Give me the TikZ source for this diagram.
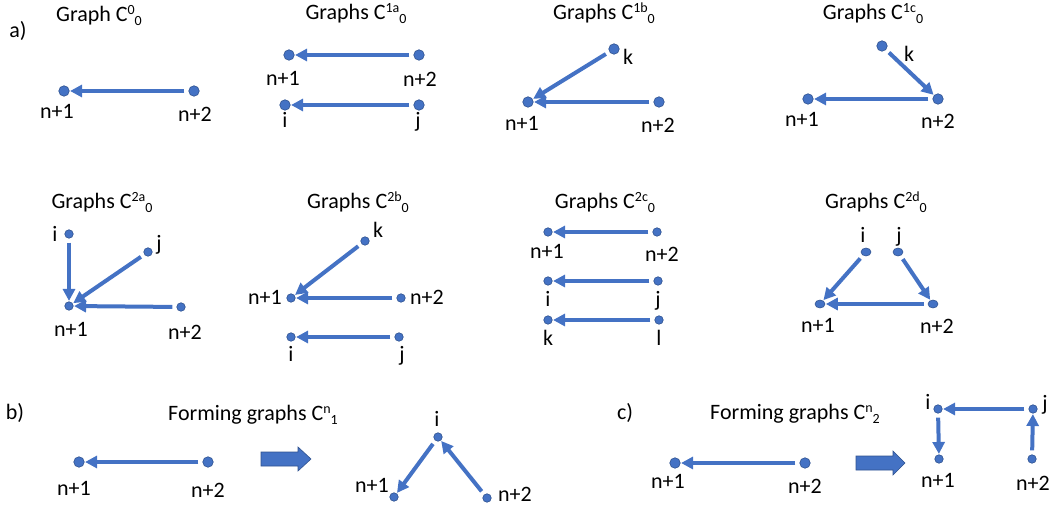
\documentclass[tikz,border=0pt]{standalone}
\usepackage{fontspec}
\setmainfont{Carlito}
\usetikzlibrary{arrows.meta,shapes.geometric}
\definecolor{gblue}{HTML}{4472C4}
\definecolor{gdark}{HTML}{2F528F}
\newcommand{\Cg}[2]{C\raisebox{7pt}{\fontsize{14}{14}\selectfont #1}\raisebox{-4pt}{\fontsize{14}{14}\selectfont #2}}
\begin{document}
\begin{tikzpicture}[x=1pt,y=-1pt,
  dot/.style={circle,fill=gblue,draw=gdark,line width=0.6pt,inner sep=0pt,minimum size=10.5pt},
  sdot/.style={dot,minimum size=8.5pt},
  edot/.style={ellipse,fill=gblue,draw=gdark,line width=0.6pt,inner sep=0pt,minimum width=10pt,minimum height=8pt},
  lbl/.style={anchor=base,inner sep=0pt,font=\fontsize{22}{26}\selectfont},
  edge/.style={draw=gblue,line width=4pt,-{Triangle[length=12pt,width=12pt]},shorten <=4pt,shorten >=0.5pt},
  bigarrow/.style={fill=gblue,draw=gdark,line width=0.6pt}]
\useasboundingbox (0,0) rectangle (1054,510);

% ---- titles
\node[lbl] (ta) at (18,38) {a)};
\node[lbl] (t1) at (99,22) {Graph \Cg{0}{0}};
\node[lbl] (t2) at (356,20) {Graphs \Cg{1a}{0}};
\node[lbl] (t3) at (604,20) {Graphs \Cg{1b}{0}};
\node[lbl] (t4) at (873,20) {Graphs \Cg{1c}{0}};
\node[lbl] (t5) at (102,209) {Graphs \Cg{2a}{0}};
\node[lbl] (t6) at (358,209) {Graphs \Cg{2b}{0}};
\node[lbl] (t7) at (605,209) {Graphs \Cg{2c}{0}};
\node[lbl] (t8) at (876,209) {Graphs \Cg{2d}{0}};
\node[lbl] (tb) at (15,419) {b)};
\node[lbl] (t9) at (253,420) {Forming graphs \Cg{n}{1}};
\node[lbl] (tc) at (625,419) {c)};
\node[lbl] (t10) at (795,419) {Forming graphs \Cg{n}{2}};

% ---- panel 1
\node[dot] (a1) at (64,91) {};
\node[dot] (a2) at (194,91) {};
\node[lbl] (a1l) at (57,119) {n+1};
\node[lbl] (a2l) at (195,122) {n+2};
\draw[edge] (a2) -- (a1);

% ---- panel 2
\node[dot] (b1) at (289,55) {};
\node[dot] (b2) at (419,55) {};
\node[dot] (b3) at (285,105) {};
\node[dot] (b4) at (419,105) {};
\node[lbl] (b1l) at (283,86) {n+1};
\node[lbl] (b2l) at (420,87) {n+2};
\node[lbl] (b3l) at (285,128) {i};
\node[lbl] (b4l) at (418,128) {j};
\draw[edge] (b2) -- (b1);
\draw[edge] (b4) -- (b3);

% ---- panel 3
\node[dot] (ck) at (614,49) {};
\node[dot] (c1) at (528,102) {};
\node[dot] (c2) at (659,102) {};
\node[lbl] (ckl) at (628,65) {k};
\node[lbl] (c1l) at (522,131) {n+1};
\node[lbl] (c2l) at (658,133) {n+2};
\draw[edge] (ck) -- (c1);
\draw[edge] (c2) -- (c1);

% ---- panel 4
\node[dot] (dk) at (882,46) {};
\node[dot] (d1) at (808,99) {};
\node[dot] (d2) at (938,99) {};
\node[lbl] (dkl) at (909,62) {k};
\node[lbl] (d1l) at (802,127) {n+1};
\node[lbl] (d2l) at (938,129) {n+2};
\draw[edge] (dk) -- (d2);
\draw[edge] (d2) -- (d1);

% ---- panel 5
\node[sdot] (ei) at (69,234) {};
\node[sdot] (ej) at (148,252) {};
\node[sdot] (e1) at (69,306) {};
\node[sdot] (e2) at (181,307) {};
\node[lbl] (eil) at (55,242) {i};
\node[lbl] (ejl) at (159,251) {j};
\node[lbl] (e1l) at (71,337) {n+1};
\node[lbl] (e2l) at (185,339) {n+2};
\draw[edge] (ei) -- (e1);
\draw[edge] (ej) -- (e1);
\draw[edge] (e2) -- (e1);

% ---- panel 6
\node[sdot] (fk) at (365,241) {};
\node[sdot] (f1) at (291,298) {};
\node[sdot] (f2) at (401,298) {};
\node[sdot] (fi) at (291,337) {};
\node[sdot] (fj) at (399,337) {};
\node[lbl] (fkl) at (378,238) {k};
\node[lbl] (f1l) at (265,305) {n+1};
\node[lbl] (f2l) at (427,305) {n+2};
\node[lbl] (fil) at (291,361) {i};
\node[lbl] (fjl) at (402,361) {j};
\draw[edge] (fk) -- (f1);
\draw[edge] (f2) -- (f1);
\draw[edge] (fj) -- (fi);

% ---- panel 7
\node[sdot] (g1) at (548,232) {};
\node[sdot] (g2) at (657,232) {};
\node[sdot] (gi) at (548,281) {};
\node[sdot] (gj) at (658,281) {};
\node[sdot] (gk) at (548,320) {};
\node[sdot] (gl) at (659,320) {};
\node[lbl] (g1l) at (547,259) {n+1};
\node[lbl] (g2l) at (662,262) {n+2};
\node[lbl] (gil) at (548,307) {i};
\node[lbl] (gjl) at (658,307) {j};
\node[lbl] (gkl) at (548,345) {k};
\node[lbl] (gll) at (659,345) {l};
\draw[edge] (g2) -- (g1);
\draw[edge] (gj) -- (gi);
\draw[edge] (gl) -- (gk);

% ---- panel 8
\node[edot] (hi) at (866,252) {};
\node[edot] (hj) at (898,252) {};
\node[edot] (h1) at (820,304) {};
\node[edot] (h2) at (933,304) {};
\node[lbl] (hil) at (863,243) {i};
\node[lbl] (hjl) at (899,243) {j};
\node[lbl] (h1l) at (818,332) {n+1};
\node[lbl] (h2l) at (937,334) {n+2};
\draw[edge] (hi) -- (h1);
\draw[edge] (hj) -- (h2);
\draw[edge] (h2) -- (h1);

% ---- panel b
\node[dot] (p1) at (79,462) {};
\node[dot] (p2) at (208,462) {};
\node[lbl] (p1l) at (74,495) {n+1};
\node[lbl] (p2l) at (208,497) {n+2};
\draw[edge] (p2) -- (p1);
\filldraw[bigarrow] (261,452) -- (298,452) -- (298,447) -- (311,459) -- (298,471) -- (298,466) -- (261,466) -- cycle;
\node[sdot] (qi) at (438,437) {};
\node[sdot] (q1) at (394,497) {};
\node[sdot] (q2) at (487,498) {};
\node[lbl] (qil) at (437,426) {i};
\node[lbl] (q1l) at (372,492) {n+1};
\node[lbl] (q2l) at (515,501) {n+2};
\draw[edge] (qi) -- (q1);
\draw[edge] (q2) -- (qi);

% ---- panel c
\node[dot] (r1) at (675,463) {};
\node[dot] (r2) at (805,463) {};
\node[lbl] (r1l) at (668,488) {n+1};
\node[lbl] (r2l) at (805,493) {n+2};
\draw[edge] (r2) -- (r1);
\filldraw[bigarrow] (856,456) -- (893,456) -- (893,451) -- (905,463) -- (893,475) -- (893,470) -- (856,470) -- cycle;
\node[sdot] (si) at (938,409) {};
\node[sdot] (sj) at (1033,409) {};
\node[sdot] (s1) at (939,459) {};
\node[sdot] (s2) at (1032,459) {};
\node[lbl] (sil) at (928,409) {i};
\node[lbl] (sjl) at (1045,410) {j};
\node[lbl] (s1l) at (938,487) {n+1};
\node[lbl] (s2l) at (1033,490) {n+2};
\draw[edge] (sj) -- (si);
\draw[edge] (si) -- (s1);
\draw[edge] (s2) -- (sj);
\end{tikzpicture}
\end{document}
